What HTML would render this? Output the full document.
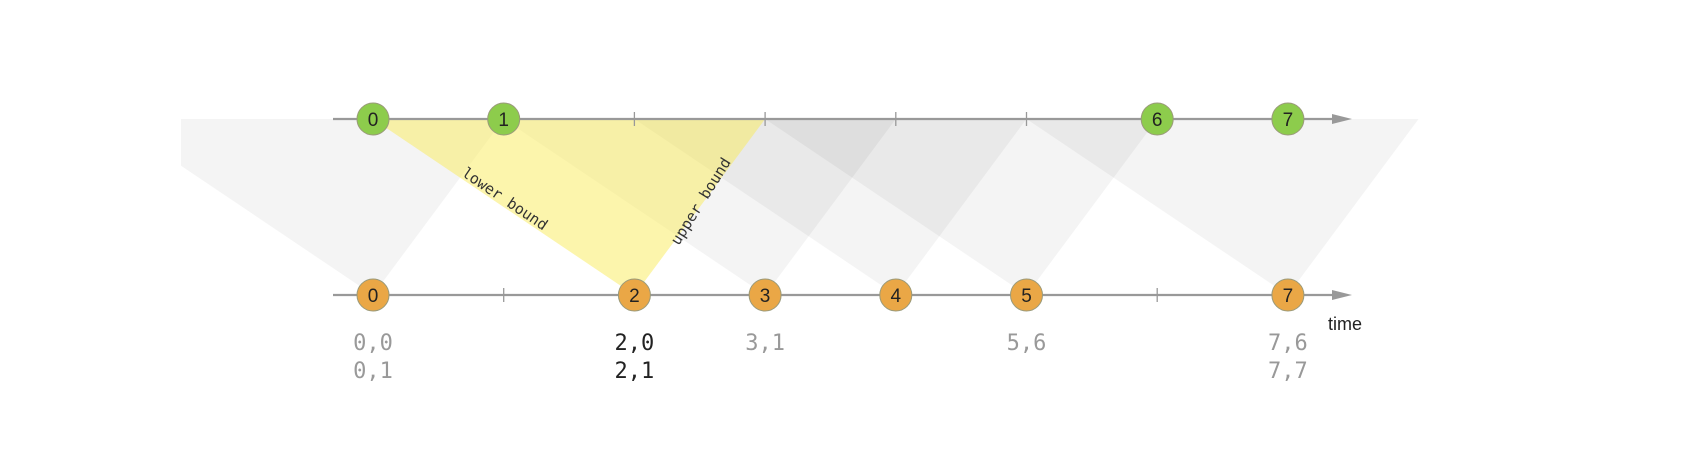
<!DOCTYPE html>
<html><head><meta charset="utf-8"><style>
html,body{margin:0;padding:0;background:#fff;}
svg{display:block;}
</style></head><body>
<svg id="c" width="1694" height="458" viewBox="0 0 1694 458" xmlns="http://www.w3.org/2000/svg">
<defs><clipPath id="clip"><rect x="181" y="0" width="1600" height="458"/></clipPath></defs>
<g id="shades" clip-path="url(#clip)"></g>
<g id="axes"></g>
<g id="nodes"></g>
<g id="labels"></g>
</svg>
<script>
const topEvents = [0, 1, 6, 7];
const topTicks = [2, 3, 4, 5];
const bottomEvents = [0, 2, 3, 4, 5, 7];
const bottomTicks = [1, 6];
const lowerOffset = [-2];
const upperOffset = [1];
const highlighted = [2];
const pairLabels = [["0,0","0,1"],["2,0","2,1"],["3,1"],["4"],["5,6"],["7,6","7,7"]];
const pairLabelTimes = [0, 2, 3, 4, 5, 7];
const showPair = [true, true, true, false, true, true];

const NS = "http://www.w3.org/2000/svg";
const X = t => 373 + 130.7 * t;
const TOPY = 119, BOTY = 295;
function mk(tag, attrs, parent){const e=document.createElementNS(NS,tag);for(const k in attrs)e.setAttribute(k,attrs[k]);parent.appendChild(e);return e;}
const shades=document.getElementById('shades'), axes=document.getElementById('axes'), nodes=document.getElementById('nodes'), labels=document.getElementById('labels');

bottomEvents.filter(t=>!highlighted.includes(t)).concat(highlighted).forEach(t=>{
  const hl = highlighted.includes(t);
  const p = mk('polygon',{points:`${X(t)},${BOTY} ${X(t+lowerOffset[0])},${TOPY} ${X(t+upperOffset[0])},${TOPY}`,fill: hl?'rgba(250,236,90,0.5)':'rgba(0,0,0,0.045)'},shades);
  
  
});

[TOPY,BOTY].forEach((y,i)=>{
  const l=mk('line',{x1:333,y1:y,x2:1335,y2:y,stroke:'#999','stroke-width':2.2},axes);
  
  
  const a=mk('polygon',{points:`1332,${y-5} 1352,${y} 1332,${y+5}`,fill:'#999'},axes);
  
  
});
function tick(t,y){const k=mk('line',{x1:X(t),y1:y-7,x2:X(t),y2:y+7,stroke:'#999','stroke-width':1.3},axes);
  
  }
topTicks.forEach(t=>tick(t,TOPY));
bottomTicks.forEach(t=>tick(t,BOTY));

function node(t,y,fill,name){
  const g=mk('g',{},nodes);
  
  
  mk('circle',{cx:X(t),cy:y,r:16,fill:fill,stroke:'#9a9a7a','stroke-width':1},g);
  const tx=mk('text',{x:X(t),y:y+7,'text-anchor':'middle','font-family':'Liberation Sans, sans-serif','font-size':19,fill:'#222'},g);
  tx.textContent=t;
}
topEvents.forEach(t=>node(t,TOPY,'#8dcc4c','input-event-'+t));
bottomEvents.forEach(t=>node(t,BOTY,'#eaa746','output-event-'+t));

pairLabelTimes.forEach((t,i)=>{
  if(!showPair[i])return;
  pairLabels[i].forEach((s,j)=>{
    const tx=mk('text',{x:X(t),y:350+j*28,'text-anchor':'middle','font-family':'DejaVu Sans Mono, Liberation Mono, monospace','font-size':22,fill:highlighted.includes(t)?'#222':'#999'},labels);
    
    
    tx.textContent=s;
  });
});
const tm=mk('text',{x:1328,y:330,'font-family':'Liberation Sans, sans-serif','font-size':18,fill:'#222'},labels);


tm.textContent='time';

const lb=mk('text',{x:0,y:0,'text-anchor':'middle','font-family':'DejaVu Sans Mono, monospace','font-size':15,fill:'#333',transform:'translate(502,203) rotate(34)'},labels);


lb.textContent='lower bound';
const ub=mk('text',{x:0,y:0,'text-anchor':'middle','font-family':'DejaVu Sans Mono, monospace','font-size':15,fill:'#333',transform:'translate(705,204) rotate(-58)'},labels);


ub.textContent='upper bound';
</script>
</body></html>
